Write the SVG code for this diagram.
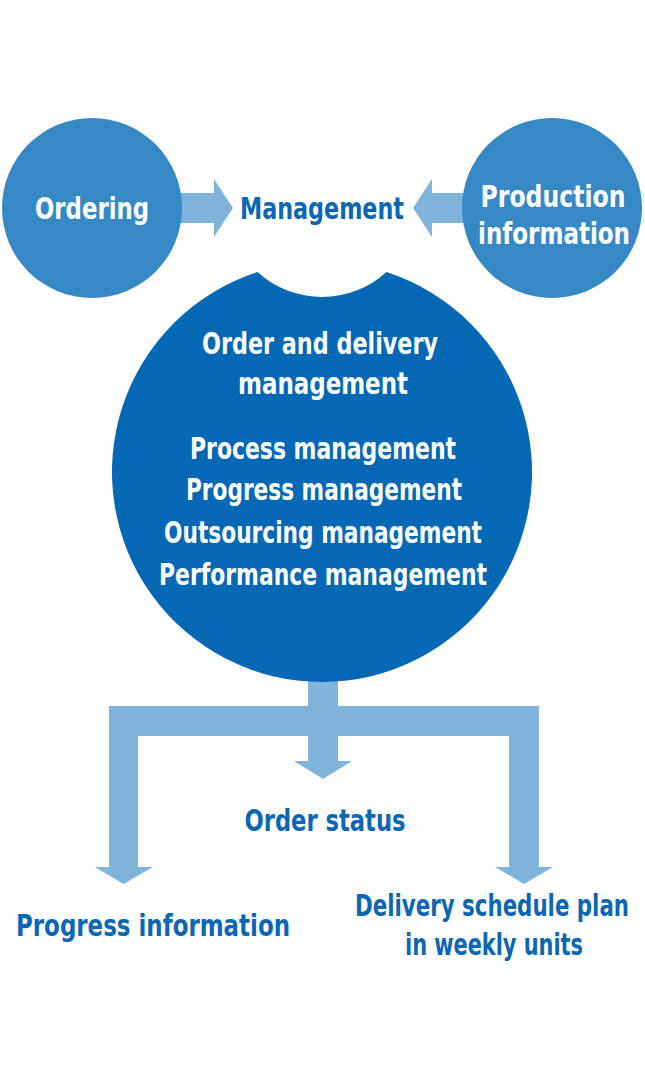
<svg xmlns="http://www.w3.org/2000/svg" width="645" height="1070" viewBox="0 0 645 1070">
<style>
text{font-family:"Liberation Sans Narrow","DejaVu Sans Condensed","Liberation Sans",sans-serif;font-weight:bold;font-size:30px;text-anchor:middle}
.w{fill:#ffffff}
.b{fill:#0b67b2}
.side{fill:#3789c6}
.main{fill:#0468b4}
.arr{fill:#80b4da}
</style>
<rect width="645" height="1070" fill="#ffffff"/>
<g id="connectors">
<polygon class="arr" points="175,193 214,193 214,179 233,208 214,237 214,223 175,223"/>
<polygon class="arr" points="470,193 432,193 432,179 413,208 432,237 432,223 470,223"/>
<polygon class="arr" points="308,670 338,670 338,706 539,706 539,867 553,867 524,884 495,867 509,867 509,736 338,736 338,761 352,761 323,779 294,761 308,761 308,736 138,736 138,867 153,867 123.5,884 95,867 109,867 109,706 308,706"/>
</g>
<g id="ordering">
<circle class="side" cx="92" cy="208" r="90"/>
<text class="w" x="92" y="219" textLength="114" lengthAdjust="spacingAndGlyphs">Ordering</text>
</g>
<g id="production">
<circle class="side" cx="552" cy="208" r="90"/>
<text class="w" x="553" y="207" textLength="145" lengthAdjust="spacingAndGlyphs">Production</text>
<text class="w" x="554" y="244" textLength="152" lengthAdjust="spacingAndGlyphs">information</text>
</g>
<g id="management">
<text class="b" x="322" y="219" textLength="164" lengthAdjust="spacingAndGlyphs">Management</text>
</g>
<g id="core">
<path class="main" d="M257.5 272.1 A96 96 0 0 0 386.5 272.1 A210 210 0 1 1 257.5 272.1 Z"/>
<text class="w" x="320" y="354" textLength="236" lengthAdjust="spacingAndGlyphs">Order and delivery</text>
<text class="w" x="323" y="394" textLength="170" lengthAdjust="spacingAndGlyphs">management</text>
<text class="w" x="323" y="459" textLength="266" lengthAdjust="spacingAndGlyphs">Process management</text>
<text class="w" x="324" y="500" textLength="276" lengthAdjust="spacingAndGlyphs">Progress management</text>
<text class="w" x="323" y="543" textLength="318" lengthAdjust="spacingAndGlyphs">Outsourcing management</text>
<text class="w" x="323" y="585" textLength="328" lengthAdjust="spacingAndGlyphs">Performance management</text>
</g>
<g id="order-status">
<text class="b" x="325" y="831" textLength="161" lengthAdjust="spacingAndGlyphs">Order status</text>
</g>
<g id="progress-info">
<text class="b" x="153" y="936" textLength="274" lengthAdjust="spacingAndGlyphs">Progress information</text>
</g>
<g id="delivery-plan">
<text class="b" x="492" y="916" textLength="274" lengthAdjust="spacingAndGlyphs">Delivery schedule plan</text>
<text class="b" x="494" y="955" textLength="178" lengthAdjust="spacingAndGlyphs">in weekly units</text>
</g>
</svg>
